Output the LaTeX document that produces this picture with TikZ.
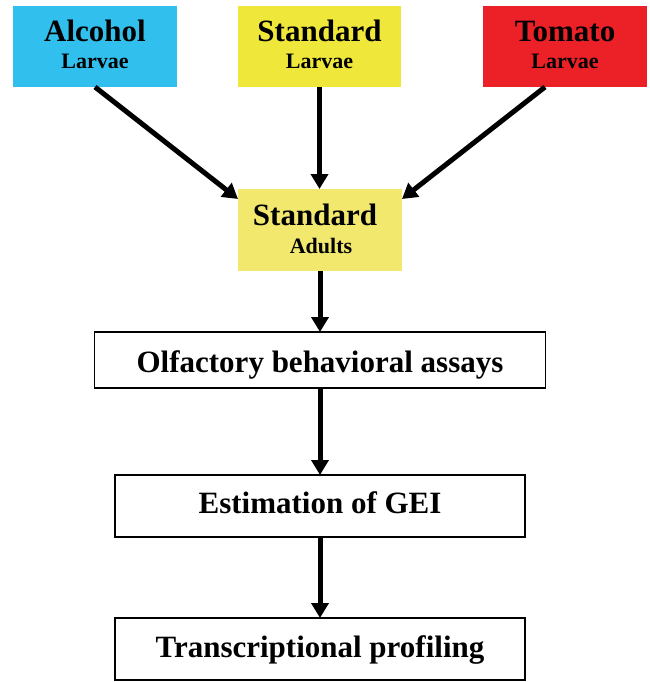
\documentclass[tikz,border=0pt]{standalone}
\usepackage{fontspec}
\setmainfont{Liberation Serif}
\usetikzlibrary{arrows.meta}
\definecolor{cyanbox}{RGB}{49,192,237}
\definecolor{yelbox}{RGB}{239,232,58}
\definecolor{redbox}{RGB}{235,33,39}
\definecolor{adbox}{RGB}{242,232,110}
\tikzset{
  colbox/.style={minimum width=164pt,minimum height=81pt,inner sep=0pt,outer sep=0pt},
  stagebox/.style={draw=black,line width=1.4pt,fill=white,inner sep=0pt,outer sep=0pt},
  bigtxt/.style={anchor=base,inner sep=0pt,font=\bfseries\fontsize{31}{31}\selectfont},
  smalltxt/.style={anchor=base,inner sep=0pt,font=\bfseries\fontsize{22}{22}\selectfont},
  arr/.style={line width=5pt,-{Triangle[length=15pt,width=17pt]}}
}
\begin{document}
\begin{tikzpicture}[x=1pt,y=-1pt]
\useasboundingbox (0,0) rectangle (649,682);
% top boxes
\node[colbox,fill=cyanbox] (alc) at (95,46.5) {};
\node[colbox,fill=yelbox,minimum width=163pt] (std) at (319.5,46.5) {};
\node[colbox,fill=redbox] (tom) at (565,46.5) {};
\node[bigtxt] (alcA) at (95,42) {Alcohol};
\node[smalltxt] (alcB) at (95,69) {Larvae};
\node[bigtxt] (stdA) at (319.5,42) {Standard};
\node[smalltxt] (stdB) at (319.5,69) {Larvae};
\node[bigtxt] (tomA) at (565,42) {Tomato};
\node[smalltxt] (tomB) at (565,69) {Larvae};
% adults
\node[colbox,fill=adbox,minimum height=82pt] (ad) at (320,230) {};
\node[bigtxt] (adA) at (315,225) {Standard};
\node[smalltxt] (adB) at (321,253) {Adults};
% stages
\node[stagebox,minimum width=451pt,minimum height=56pt] (olf) at (320,360) {};
\node[bigtxt] (olfT) at (320,372) {Olfactory behavioral assays};
\node[stagebox,minimum width=410pt,minimum height=62pt] (gei) at (320,506) {};
\node[bigtxt] (geiT) at (320,513) {Estimation of GEI};
\node[stagebox,minimum width=410pt,minimum height=62pt] (tra) at (320,649) {};
\node[bigtxt] (traT) at (320,657) {Transcriptional profiling};
% arrows
\draw[arr] (alc.south) -- ([yshift=-10pt]ad.north west);
\draw[arr] (std.south) -- (std.south |- ad.north);
\draw[arr] ([xshift=-20pt]tom.south) -- ([yshift=-10pt]ad.north east);
\draw[arr] (ad.south) -- (olf.north);
\draw[arr] (olf.south) -- (gei.north);
\draw[arr] (gei.south) -- (tra.north);
\end{tikzpicture}
\end{document}
